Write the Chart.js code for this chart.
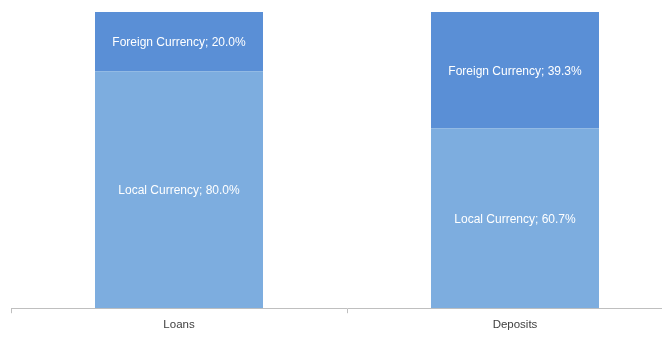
<!DOCTYPE html>
<html><head><meta charset="utf-8">
<script src="https://cdn.jsdelivr.net/npm/chart.js@4/dist/chart.umd.min.js"></script>
<style>html,body{margin:0;padding:0;background:#fff;overflow:hidden;}#wrap{width:662px;height:338px;overflow:hidden;}</style>
</head><body><div id="wrap"><canvas id="c" width="683" height="338"></canvas></div>
<script>
const categories = ["Loans", "Deposits"];
const localCurrency = [80.0, 60.7];
const foreignCurrency = [20.0, 39.3];
const seriesNames = ["Local Currency", "Foreign Currency"];

const labelPlugin = {
  id: 'segLabels',
  afterDatasetsDraw(chart) {
    const ctx = chart.ctx;
    ctx.save();
    ctx.fillStyle = '#ffffff';
    ctx.font = '12px "Liberation Sans", Arial, sans-serif';
    ctx.textAlign = 'center';
    ctx.textBaseline = 'middle';
    chart.data.datasets.forEach((ds, di) => {
      chart.getDatasetMeta(di).data.forEach((bar, i) => {
        const p = bar.getProps(['x','y','base'], true);
        const v = ds.data[i];
        ctx.fillText(ds.label + '; ' + v.toFixed(1) + '%', p.x, (p.y + p.base) / 2 + 1);
      });
    });
    ctx.restore();
  }
};

new Chart(document.getElementById('c'), {
  type: 'bar',
  data: {
    labels: categories,
    datasets: [
      { label: seriesNames[0], data: localCurrency, backgroundColor: '#7daddf', borderWidth: 0, categoryPercentage: 0.5, barPercentage: 1.0 },
      { label: seriesNames[1], data: foreignCurrency, backgroundColor: '#5a8fd6', borderWidth: 0, categoryPercentage: 0.5, barPercentage: 1.0 }
    ]
  },
  options: {
    responsive: false,
    animation: false,
    devicePixelRatio: 1,
    layout: { padding: { left: 11, right: 0, top: 12, bottom: 1 } },
    plugins: { legend: { display: false }, tooltip: { enabled: false } },
    scales: {
      x: {
        stacked: true,
        grid: { display: true, drawOnChartArea: false, tickLength: 5, color: '#bfbfbf', offset: true },
        border: { display: true, color: '#bfbfbf' },
        ticks: { color: '#404040', font: { size: 11.5, family: '"Liberation Sans", Arial, sans-serif' }, padding: 5 }
      },
      y: {
        stacked: true, min: 0, max: 100, display: false
      }
    }
  },
  plugins: [labelPlugin]
});
</script>
</body></html>
